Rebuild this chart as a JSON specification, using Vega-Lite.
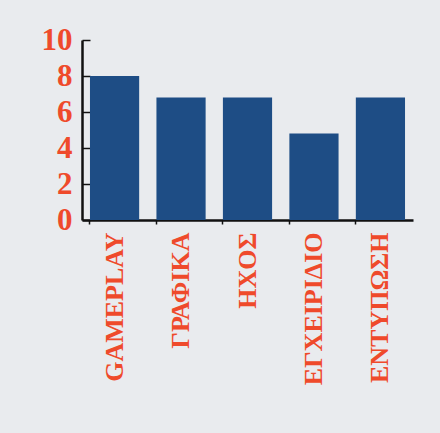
{
  "$schema": "https://vega.github.io/schema/vega-lite/v6.json",
  "autosize": {"type": "none"},
  "width": 331,
  "height": 180,
  "padding": {"left": 82, "top": 40, "right": 27, "bottom": 213},
  "background": "#e9ebee",
  "data": {"values": [
    {"category": "GAMEPLAY", "score": 8},
    {"category": "ΓΡΑΦΙΚΑ", "score": 6.8},
    {"category": "ΗΧΟΣ", "score": 6.8},
    {"category": "ΕΓΧΕΙΡΙΔΙΟ", "score": 4.8},
    {"category": "ΕΝΤΥΠΩΣΗ", "score": 6.8}
  ]},
  "mark": {"type": "bar", "color": "#1e4d85"},
  "encoding": {
    "x": {
      "field": "category", "type": "nominal", "sort": null,
      "scale": {"paddingInner": 0.26, "paddingOuter": 0.12},
      "axis": {
        "title": null, "labelAngle": -90, "labelAlign": "right", "labelBaseline": "middle",
        "labelFont": "Liberation Serif", "labelFontWeight": "bold", "labelFontSize": 26,
        "labelColor": "#ef4a2b", "labelPadding": 8,
        "domainColor": "#111111", "domainWidth": 2.5, "tickColor": "#111111", "tickWidth": 1.5,
        "tickSize": 4, "bandPosition": 0, "grid": false
      }
    },
    "y": {
      "field": "score", "type": "quantitative",
      "scale": {"domain": [0, 10], "nice": false},
      "axis": {
        "title": null, "values": [0, 2, 4, 6, 8, 10],
        "labelFont": "Liberation Serif", "labelFontWeight": "bold", "labelFontSize": 31,
        "labelColor": "#ef4a2b", "labelPadding": 18,
        "domainColor": "#111111", "domainWidth": 2.5, "tickColor": "#111111", "tickWidth": 1.5,
        "tickSize": -8, "grid": false
      }
    }
  },
  "config": {"view": {"stroke": null}}
}
